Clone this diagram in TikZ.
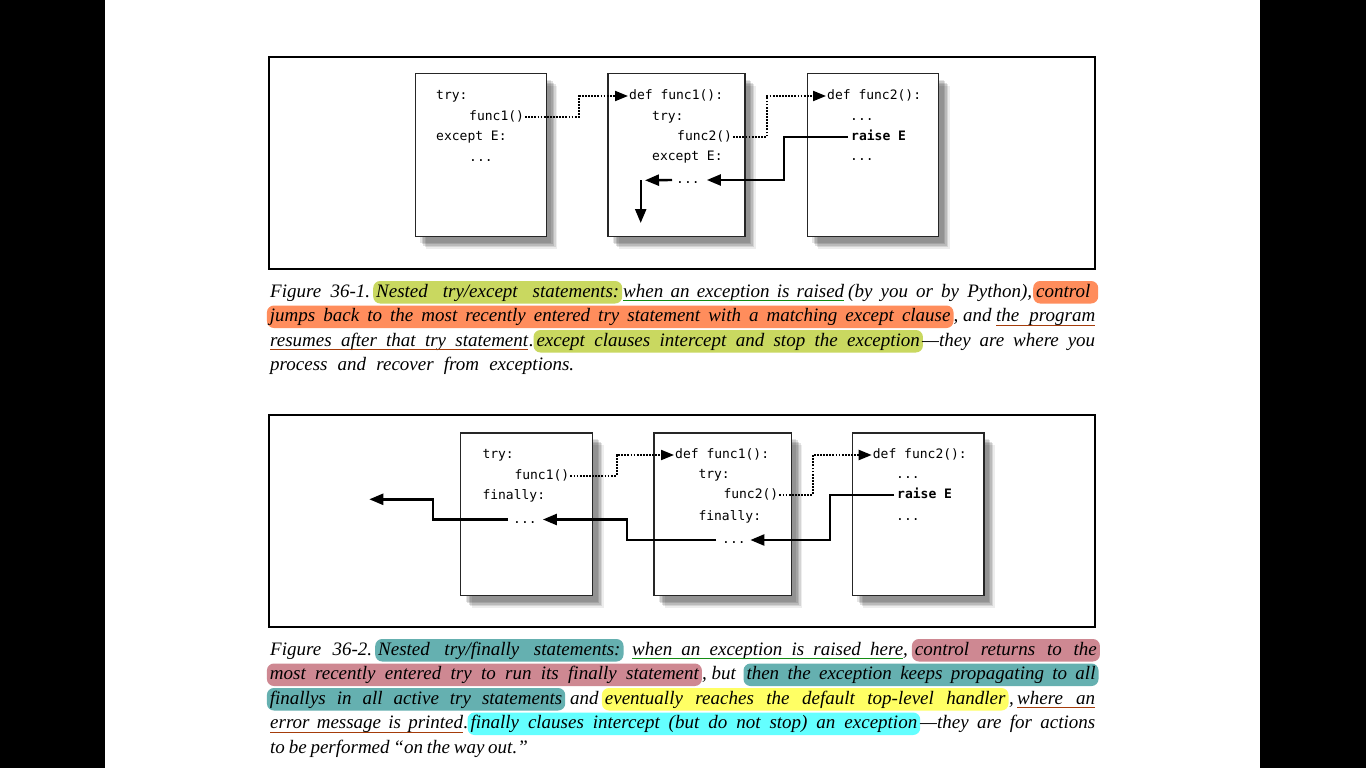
\documentclass[tikz,border=0pt]{standalone}
\usepackage{fontspec}
\usetikzlibrary{arrows.meta,shadows}
\setmainfont{Liberation Serif}
\newfontfamily\codefont{DejaVu Sans Mono}
\newcommand\capfont{\fontsize{19}{23}\selectfont\itshape}
\newcommand\fit[2]{\hbox to #1pt{\spaceskip=.3em plus 1fill minus .1em\relax#2}}
\definecolor{hlgreen}{RGB}{201,216,96}
\definecolor{hlorange}{RGB}{255,141,92}
\definecolor{hlteal}{RGB}{101,176,176}
\definecolor{hlmauve}{RGB}{206,136,146}
\definecolor{hlyellow}{RGB}{255,255,100}
\definecolor{hlcyan}{RGB}{100,255,255}
\definecolor{ulgreen}{RGB}{20,140,20}
\definecolor{ulbrown}{RGB}{165,60,10}

\begin{document}
\begin{tikzpicture}[x=1pt,y=-1pt,
    codebox/.style={draw=black!85, line width=1.2pt, fill=white, anchor=north west,
      minimum height=162.7pt, inner sep=0pt,
      drop shadow={shadow xshift=11pt, shadow yshift=-12pt, fill=black, opacity=.07},
      drop shadow={shadow xshift=9.5pt, shadow yshift=-10.5pt, fill=black, opacity=.1},
      drop shadow={shadow xshift=8pt, shadow yshift=-9pt, fill=black, opacity=.12},
      drop shadow={shadow xshift=6.5pt, shadow yshift=-7.5pt, fill=black, opacity=.12},
      drop shadow={shadow xshift=5pt, shadow yshift=-6pt, fill=black, opacity=.1}},
    code/.style={anchor=west, inner xsep=1pt, inner ysep=0pt, text height=10pt,
      text depth=3pt, font=\codefont\fontsize{13}{15}\selectfont},
    call/.style={line width=2pt, dash pattern=on 1.8pt off 1.3pt,
      -{Triangle[length=13pt,width=10pt]}},
    ret/.style={line width=2.4pt, -{Triangle[length=14pt,width=11pt]}},
    capt/.style={anchor=base west, inner sep=0pt, font=\capfont},
    hl/.style={capt, fill=#1, rounded corners=7pt, inner xsep=3pt, inner ysep=2.5pt,
      text height=13.5pt, text depth=4pt},
    ul/.style={line width=1pt, draw=#1}]

    \useasboundingbox (0,0) rectangle (1366,768);
    \fill[black] (0,0) rectangle (1366,768);
    \fill[white] (105,0) rectangle (1260,768);

    \draw[line width=1.2pt] (269,57) rectangle (1095,269);
    \draw[line width=1.2pt] (269,415) rectangle (1095,627);

    \node[codebox, minimum width=131.2pt] (boxA) at (414.5,73.3) {};
    \node[codebox, minimum width=137pt] (boxB) at (607.3,73.3) {};
    \node[codebox, minimum width=131.3pt] (boxC) at (806.7,73.3) {};

    \node[code] (a1) at (435,96) {try:};
    \node[code] (a2) at (468,116.7) {func1()};
    \node[code] (a3) at (435,137) {except E:};
    \node[code] (a4) at (468,157.5) {...};

    \node[code] (b1) at (628,96) {def func1():};
    \node[code] (b2) at (651,116.7) {try:};
    \node[code] (b3) at (676,137) {func2()};
    \node[code] (b4) at (651,157.3) {except E:};
    \node[code] (b5) at (675,180) {...};

    \node[code] (c1) at (826,96) {def func2():};
    \node[code] (c2) at (849,116.7) {...};
    \node[code] (c3) at (850,137) {\bfseries raise E};
    \node[code] (c4) at (849,157.3) {...};

    \coordinate (j1) at (579.3,0);
    \coordinate (j2) at (766.7,0);
    \coordinate (j3) at (785.7,0);
    \coordinate (hook1) at (645,180.3);
    \coordinate (drop1) at (640.7,180);
    \coordinate (out1) at (640.7,223);

    \draw[call] (a2.east) -- (a2.east -| j1) |- (b1.west);
    \draw[call] (b3.east) -- (b3.east -| j2) |- (c1.west);
    \draw[ret] ([xshift=-2pt]c3.west) -- ([xshift=-2pt]c3.west -| j3) |- ([xshift=6pt]b5.east);
    \draw[ret] ([xshift=-3pt]b5.west) -- (hook1);
    \draw[ret] (drop1) -- (out1);

    \node[codebox, minimum width=132pt] (boxD) at (460,432.3) {};
    \node[codebox, minimum width=137.4pt] (boxE) at (653.3,432.3) {};
    \node[codebox, minimum width=131.6pt] (boxF) at (851.7,432.3) {};

    \node[code] (p1) at (481.3,454.5) {try:};
    \node[code] (p2) at (513.3,475.5) {func1()};
    \node[code] (p3) at (481.3,495.7) {finally:};
    \node[code] (p4) at (512,519.5) {...};

    \node[code] (q1) at (674,455) {def func1():};
    \node[code] (q2) at (697.3,475) {try:};
    \node[code] (q3) at (722.3,495) {func2()};
    \node[code] (q4) at (697.3,516.5) {finally:};
    \node[code] (q5) at (721,540) {...};

    \node[code] (r1) at (871.7,455) {def func2():};
    \node[code] (r2) at (895,475) {...};
    \node[code] (r3) at (896,495) {\bfseries raise E};
    \node[code] (r4) at (895,516.5) {...};

    \coordinate (k1) at (616.7,0);
    \coordinate (k2) at (812.7,0);
    \coordinate (k3) at (831.7,0);
    \coordinate (k4) at (631.7,0);
    \coordinate (k5) at (436.7,0);
    \coordinate (exit2) at (369.3,499.3);

    \draw[call] (p2.east) -- (p2.east -| k1) |- (q1.west);
    \draw[call] (q3.east) -- (q3.east -| k2) |- (r1.west);
    \draw[ret] ([xshift=-2pt]r3.west) -- ([xshift=-2pt]r3.west -| k3) |- ([xshift=3.5pt]q5.east);
    \draw[ret] ([xshift=-5pt]q5.west) -- ([xshift=-5pt]q5.west -| k4) |- ([xshift=5pt]p4.east);
    \draw[ret] ([xshift=-4pt]p4.west) -- ([xshift=-4pt]p4.west -| k5) |- (exit2);

    \node[capt] (f1a) at (270,297) {\fit{100}{Figure 36-1.}};
    \node[hl=hlgreen] (f1b) at (373,297) {\fit{243}{Nested try/except statements:}};
    \node[capt] (f1c) at (623,297) {\fit{221}{when an exception is raised}};
    \node[capt] (f1d) at (848,297) {\fit{184}{(by you or by Python),}};
    \node[hl=hlorange] (f1e) at (1033,297) {\fit{59}{control}};
    \draw[ul=ulgreen] ([yshift=-3.5pt]f1c.base west) -- ([yshift=-3.5pt]f1c.base east);

    \node[hl=hlorange] (f2a) at (266.7,321.5) {\fit{680.6}{jumps back to the most recently entered try statement with a matching except clause}};
    \node[capt] (f2b) at (953.5,321.5) {, and};
    \node[capt] (f2c) at (996,321.5) {\fit{99}{the program}};
    \draw[ul=ulbrown] ([yshift=-3.5pt]f2c.base west) -- ([yshift=-3.5pt]f2c.base east);

    \node[capt] (f3a) at (270,346) {\fit{258}{resumes after that try statement}};
    \node[capt] (f3b) at (529,346) {.};
    \node[hl=hlgreen] (f3c) at (533.3,346) {\fit{383.4}{except clauses intercept and stop the exception}};
    \node[capt] (f3d) at (922,346) {\fit{173}{—they are where you}};
    \draw[ul=ulbrown] ([yshift=-3.5pt]f3a.base west) -- ([yshift=-3.5pt]f3a.base east);

    \node[capt] (f4a) at (270,370.5) {\fit{304}{process and recover from exceptions.}};

    \node[capt] (g1a) at (270,655) {\fit{102}{Figure 36-2.}};
    \node[hl=hlteal] (g1b) at (375,655) {\fit{242.3}{Nested try/finally statements:}};
    \node[capt] (g1c) at (632,655) {\fit{271}{when an exception is raised here}};
    \node[capt] (g1d) at (903,655) {,};
    \node[hl=hlmauve] (g1e) at (911.7,655) {\fit{182}{control returns to the}};
    \draw[ul=ulgreen] ([yshift=-3.5pt]g1c.base west) -- ([yshift=-3.5pt]g1c.base east);

    \node[hl=hlmauve] (g2a) at (266.7,679.5) {\fit{429}{most recently entered try to run its finally statement}};
    \node[capt] (g2b) at (702,679.5) {, but};
    \node[hl=hlteal] (g2c) at (743.3,679.5) {\fit{349}{then the exception keeps propagating to all}};

    \node[hl=hlteal] (g3a) at (266.7,704) {\fit{292.3}{finallys in all active try statements}};
    \node[capt] (g3b) at (570,704) {and};
    \node[hl=hlyellow] (g3c) at (601.7,704) {\fit{400.6}{eventually reaches the default top-level handler}};
    \node[capt] (g3d) at (1009,704) {,};
    \node[capt] (g3e) at (1017,704) {\fit{78}{where an}};
    \draw[ul=ulbrown] ([yshift=-3.5pt]g3e.base west) -- ([yshift=-3.5pt]g3e.base east);

    \node[capt] (g4a) at (270,728.5) {\fit{193}{error message is printed}};
    \node[capt] (g4b) at (463.5,728.5) {.};
    \node[hl=hlcyan] (g4c) at (467.3,728.5) {\fit{446.7}{finally clauses intercept (but do not stop) an exception}};
    \node[capt] (g4d) at (920,728.5) {\fit{175}{—they are for actions}};
    \draw[ul=ulbrown] ([yshift=-3.5pt]g4a.base west) -- ([yshift=-3.5pt]g4a.base east);

    \node[capt] (g5a) at (270,753) {\fit{246}{to be performed “on the way out.”}};

\end{tikzpicture}
\end{document}
